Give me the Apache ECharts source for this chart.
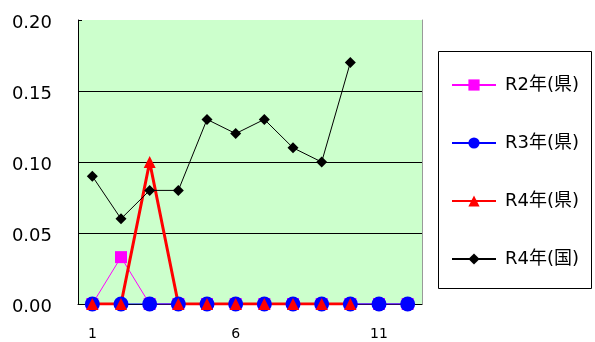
<!DOCTYPE html>
<html><head><meta charset="utf-8">
<script src="https://cdn.jsdelivr.net/npm/echarts@6/dist/echarts.min.js"></script>
<style>html,body{margin:0;padding:0;background:#fff}#c{width:595px;height:342px}</style>
</head><body><div id="c"></div>
<script>
const categories = ['1','2','3','4','5','6','7','8','9','10','11','12'];
const r2ken = [0, 0.033, 0, 0, 0, 0, 0, 0, 0, 0, 0, 0];
const r3ken = [0, 0, 0, 0, 0, 0, 0, 0, 0, 0, 0, 0];
const r4ken = [0, 0, 0.10, 0, 0, 0, 0, 0, 0, 0];
const r4kuni = [0.09, 0.06, 0.08, 0.08, 0.13, 0.12, 0.13, 0.11, 0.10, 0.17];
const names = ['R2年(県)', 'R3年(県)', 'R4年(県)', 'R4年(国)'];
const yTicks = [0, 0.05, 0.10, 0.15, 0.20];

const font = '"DejaVu Sans", "Noto Sans CJK JP", sans-serif';
const chart = echarts.init(document.getElementById('c'), null, {renderer: 'canvas'});
chart.setOption({
  animation: false,
  textStyle: {fontFamily: font},
  grid: {left: 78, right: 173, top: 20, bottom: 38, show: true, backgroundColor: '#CCFFCC', borderWidth: 0},
  graphic: [{type: 'rect', left: 436, top: 49, shape: {width: 153, height: 237},
             style: {fill: 'none', stroke: '#000', lineWidth: 1}, z: 100}],
  legend: {
    orient: 'vertical', left: 437, top: 49,
    padding: [27, 0, 0, 14],
    itemGap: 40, itemWidth: 44, itemHeight: 14,
    textStyle: {fontSize: 18, color: '#000', fontFamily: font, padding: [0, 0, 0, 4]},
    data: names
  },
  xAxis: {
    type: 'category', data: categories, boundaryGap: true,
    axisLine: {lineStyle: {color: '#000'}},
    axisTick: {inside: true, interval: 0, length: 5, lineStyle: {color: '#000'}},
    axisLabel: {interval: 4, fontSize: 14, color: '#000', margin: 23}
  },
  yAxis: [{
    type: 'value', min: yTicks[0], max: yTicks[yTicks.length - 1], interval: 0.05,
    axisLine: {show: true, lineStyle: {color: '#000'}},
    axisTick: {show: true, inside: true, length: 4, lineStyle: {color: '#000'}},
    axisLabel: {fontSize: 18, color: '#000', margin: 26, verticalAlign: 'top', lineHeight: 7, formatter: v => v.toFixed(2)},
    splitLine: {showMaxLine: false, showMinLine: false, lineStyle: {color: '#000', width: 1}}
  }, {
    type: 'value', position: 'right', min: yTicks[0], max: yTicks[yTicks.length - 1], interval: 0.05,
    axisLine: {show: true, lineStyle: {color: '#999'}},
    axisTick: {show: false}, axisLabel: {show: false}, splitLine: {show: false}
  }],
  series: [
    {name: names[0], type: 'line', data: r2ken, symbol: 'rect', symbolSize: 12, showAllSymbol: true,
     itemStyle: {color: '#FF00FF'}, lineStyle: {color: '#FF00FF', width: 1}},
    {name: names[1], type: 'line', data: r3ken, symbol: 'circle', symbolSize: 15, showAllSymbol: true,
     itemStyle: {color: '#0000FF'}, lineStyle: {color: '#0000FF', width: 1}},
    {name: names[2], type: 'line', data: r4ken, symbol: 'triangle', symbolSize: 12, showAllSymbol: true,
     itemStyle: {color: '#FF0000'}, lineStyle: {color: '#FF0000', width: 3}},
    {name: names[3], type: 'line', data: r4kuni, symbol: 'diamond', symbolSize: 11, showAllSymbol: true,
     itemStyle: {color: '#000'}, lineStyle: {color: '#000', width: 1}}
  ]
});
</script></body></html>
